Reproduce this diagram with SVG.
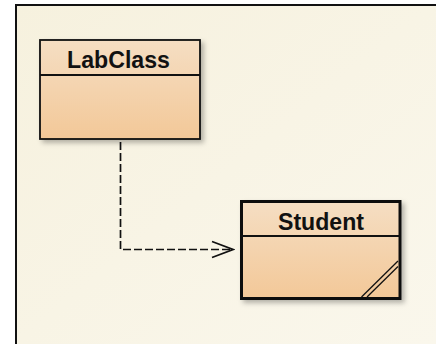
<svg xmlns="http://www.w3.org/2000/svg" width="436" height="344" viewBox="0 0 436 344">
  <defs>
    <linearGradient id="bg" x1="0" y1="0" x2="1" y2="1">
      <stop offset="0" stop-color="#f6f1de"/>
      <stop offset="1" stop-color="#faf7ec"/>
    </linearGradient>
    <linearGradient id="boxFill" x1="0" y1="0" x2="0" y2="1">
      <stop offset="0" stop-color="#f5dec3"/>
      <stop offset="1" stop-color="#f3c898"/>
    </linearGradient>
    <filter id="shadow" x="-10%" y="-10%" width="130%" height="130%">
      <feDropShadow dx="3" dy="3" stdDeviation="2.5" flood-color="#000" flood-opacity="0.28"/>
    </filter>
    <marker id="openArrow" markerWidth="24" markerHeight="20" refX="22" refY="10" orient="auto" markerUnits="userSpaceOnUse">
      <path d="M1,2 L22,10 L1,18" fill="none" stroke="#111" stroke-width="1.7"/>
    </marker>
  </defs>
  <style>
    .box { fill: url(#boxFill); stroke: #111; filter: url(#shadow); }
    .divider { stroke: #111; }
    .name { font-family: "Liberation Sans", Arial, sans-serif; font-weight: bold; font-size: 24px; fill: #111; text-anchor: middle; }
    .dep { fill: none; stroke: #111; stroke-width: 1.7; stroke-dasharray: 8 3; }
  </style>

  <!-- canvas -->
  <rect x="0" y="0" width="436" height="344" fill="#ffffff"/>
  <rect x="16" y="5" width="420" height="339" fill="url(#bg)"/>
  <line x1="16" y1="5" x2="16" y2="344" stroke="#111" stroke-width="2"/>
  <line x1="15" y1="5" x2="436" y2="5" stroke="#111" stroke-width="2"/>

  <!-- connectors -->
  <g id="connectors">
    <path class="dep" d="M120.5,142 V249.5 H233" marker-end="url(#openArrow)"/>
  </g>

  <!-- LabClass -->
  <g id="LabClass">
    <rect class="box" x="40" y="40" width="160" height="99" stroke-width="1.8"/>
    <line class="divider" x1="40" y1="75" x2="200" y2="75" stroke-width="1.8"/>
    <text class="name" x="118.5" y="68" textLength="103" lengthAdjust="spacingAndGlyphs">LabClass</text>
  </g>

  <!-- Student -->
  <g id="Student">
    <rect class="box" x="241.5" y="201.5" width="158.5" height="97" stroke-width="3"/>
    <line class="divider" x1="241.5" y1="236" x2="400" y2="236" stroke-width="1.8"/>
    <text class="name" x="321" y="229.5" textLength="86" lengthAdjust="spacingAndGlyphs">Student</text>
    <line x1="361.5" y1="297" x2="398" y2="261" stroke="#111" stroke-width="1.3"/>
    <line x1="367" y1="297" x2="398" y2="266.5" stroke="#111" stroke-width="1.3"/>
  </g>
</svg>
